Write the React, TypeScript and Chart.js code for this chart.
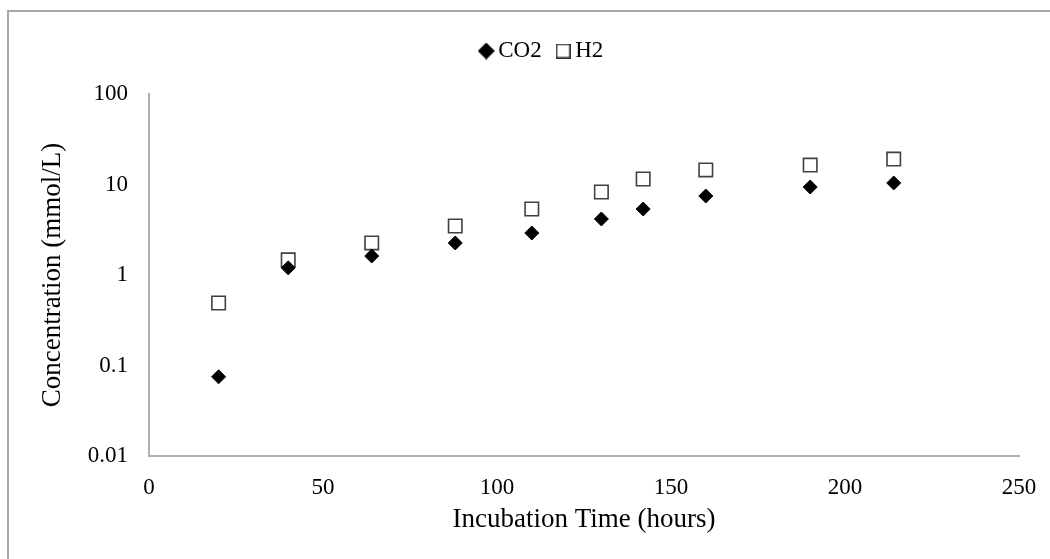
import React, { useEffect, useRef } from "react";
import { Chart, registerables } from "chart.js";
Chart.register(...registerables);

const hours = [20, 40, 64, 88, 110, 130, 142, 160, 190, 214];
const co2 = [0.075, 1.2, 1.62, 2.26, 2.91, 4.16, 5.36, 7.46, 9.38, 10.4];
const h2 = [0.49, 1.47, 2.26, 3.48, 5.36, 8.27, 11.5, 14.5, 16.4, 19.1];
const yTicks = [0.01, 0.1, 1, 10, 100];
const xTicks = [0, 50, 100, 150, 200, 250];

const FONT = '"Liberation Serif", "Times New Roman", serif';

function makeDiamond(): HTMLCanvasElement {
  const c = document.createElement("canvas");
  c.width = 17;
  c.height = 17;
  const g = c.getContext("2d")!;
  g.fillStyle = "#000000";
  g.beginPath();
  g.moveTo(8.5, 0);
  g.lineTo(17, 8.5);
  g.lineTo(8.5, 17);
  g.lineTo(0, 8.5);
  g.closePath();
  g.fill();
  return c;
}

function makeSquare(): HTMLCanvasElement {
  const c = document.createElement("canvas");
  c.width = 15;
  c.height = 15;
  const g = c.getContext("2d")!;
  g.fillStyle = "#ffffff";
  g.fillRect(0, 0, 15, 15);
  g.strokeStyle = "#333333";
  g.lineWidth = 1.6;
  g.strokeRect(0.8, 0.8, 13.4, 13.4);
  return c;
}

const legendShift = {
  id: "legendShift",
  afterLayout(chart: any) {
    const lg = chart.legend;
    if (lg) {
      lg.left += 35;
      lg.right += 35;
    }
  },
};

export default function App() {
  const ref = useRef<HTMLCanvasElement | null>(null);

  useEffect(() => {
    document.body.style.overflow = "hidden";
    const icons = [makeDiamond(), makeSquare()];
    const ctx = ref.current!.getContext("2d")!;
    const chart = new Chart(ctx, {
      type: "scatter",
      data: {
        datasets: [
          {
            label: "CO2",
            data: hours.map((x, i) => ({ x, y: co2[i] })),
            pointStyle: "rectRot",
            pointRadius: 7,
            backgroundColor: "#000000",
            borderColor: "#000000",
            borderWidth: 1,
          },
          {
            label: "H2",
            data: hours.map((x, i) => ({ x, y: h2[i] })),
            pointStyle: "rect",
            pointRadius: 9.5,
            backgroundColor: "#ffffff",
            borderColor: "#404040",
            borderWidth: 1.6,
          },
        ],
      },
      plugins: [legendShift],
      options: {
        animation: false,
        responsive: false,
        maintainAspectRatio: false,
        layout: { padding: { top: 18.5, right: 31, bottom: 0, left: 0 } },
        plugins: {
          tooltip: { enabled: false },
          title: {
            display: true,
            text: " ",
            weight: 100,
            position: "top",
            font: { size: 10 },
            padding: { top: 5, bottom: 4.5 },
          } as any,
          legend: {
            display: true,
            position: "top",
            labels: {
              usePointStyle: true,
              pointStyleWidth: 1,
              boxWidth: 12,
              boxHeight: 12,
              padding: 21,
              color: "#000000",
              font: { family: FONT, size: 23 },
              generateLabels: (c: any) => {
                const items = (Chart.defaults.plugins.legend.labels as any).generateLabels(c);
                items.forEach((it: any, i: number) => {
                  it.pointStyle = icons[i];
                });
                return items;
              },
            },
          } as any,
        },
        scales: {
          x: {
            type: "linear",
            min: 0,
            max: 250,
            afterBuildTicks: (s: any) => {
              s.ticks = xTicks.map((v) => ({ value: v }));
            },
            afterFit: (s: any) => {
              s.height = 103;
              s.paddingLeft = 0;
              s.paddingRight = 0;
            },
            grid: { display: false, drawTicks: false },
            border: { display: true, color: "#b0b0b0", width: 2 },
            ticks: {
              color: "#000000",
              padding: 18,
              font: { family: FONT, size: 23 },
              maxRotation: 0,
            },
            title: {
              display: true,
              text: "Incubation Time (hours)",
              color: "#000000",
              font: { family: FONT, size: 27 },
              padding: { top: 0, bottom: 23 },
            },
          },
          y: {
            type: "logarithmic",
            min: 0.01,
            max: 100,
            afterBuildTicks: (s: any) => {
              s.ticks = yTicks.map((v) => ({ value: v }));
            },
            afterFit: (s: any) => {
              s.width = 149;
            },
            grid: { display: false, drawTicks: false },
            border: { display: true, color: "#b0b0b0", width: 2 },
            ticks: {
              color: "#000000",
              padding: 21,
              font: { family: FONT, size: 23 },
              callback: (v: any) => String(v),
            },
            title: {
              display: true,
              text: "Concentration (mmol/L)",
              color: "#000000",
              font: { family: FONT, size: 27 },
              padding: { top: 37, bottom: 0 },
            },
          },
        },
      },
    });
    return () => chart.destroy();
  }, []);

  return (
    <div style={{ position: "fixed", left: 0, top: 0, width: 1050, height: 559, background: "#ffffff" }}>
      <div
        style={{
          position: "absolute",
          left: 7,
          top: 10,
          width: 1043,
          height: 549,
          boxSizing: "border-box",
          borderLeft: "2px solid #a8a8a8",
          borderTop: "2px solid #a8a8a8",
        }}
      />
      <canvas ref={ref} width={1050} height={559} style={{ position: "absolute", left: 0, top: 0 }} />
    </div>
  );
}
